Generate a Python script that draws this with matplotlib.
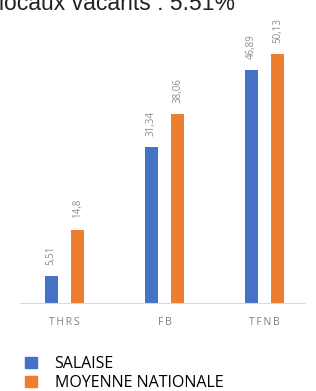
import matplotlib
matplotlib.use("Agg")
import matplotlib.pyplot as plt
from matplotlib.patches import Patch

categories = ["THRS", "FB", "TFNB"]
salaise = [5.51, 31.34, 46.89]
moyenne = [14.8, 38.06, 50.13]
series_names = ["SALAISE", "MOYENNE NATIONALE"]
title = "locaux vacants : 5.51%"

blue = "#4472C4"
orange = "#ED7D31"

fig = plt.figure(figsize=(3.16, 3.91), dpi=100)
ax = fig.add_axes([20 / 316, 88 / 391, 285 / 316, 273 / 391])

x = list(range(len(categories)))
w = 0.13
off = 0.133
b1 = ax.bar([i - off for i in x], salaise, width=w, color=blue)
b2 = ax.bar([i + off for i in x], moyenne, width=w, color=orange)

for bars, vals in [(b1, salaise), (b2, moyenne)]:
    for bar, v in zip(bars, vals):
        ax.annotate(f"{v}".replace(".", ","),
                    (bar.get_x() + bar.get_width() / 2, bar.get_height()),
                    xytext=(0, 8), textcoords="offset points",
                    rotation=90, ha="center", va="bottom",
                    fontsize=7, color="#8f8f8f", family="Open Sans")

ax.set_xlim(-0.445, 2.405)
ax.set_ylim(0, 55)
ax.set_xticks(x)
ax.set_xticklabels(["\u2009".join(c) for c in categories],
                   fontsize=7.5, color="#7f7f7f", family="Open Sans")
ax.tick_params(axis="x", length=0, pad=10)
ax.set_yticks([])
for s in ["top", "right", "left"]:
    ax.spines[s].set_visible(False)
ax.spines["bottom"].set_color("#d9d9d9")
ax.spines["bottom"].set_linewidth(0.8)

fig.text(-0.003, 1 - 10 / 391, title, fontsize=16.5, color="#222222",
         family="Liberation Sans", ha="left", va="baseline")

handles = [Patch(color=blue), Patch(color=orange)]
fig.legend(handles, series_names, loc="upper left",
           bbox_to_anchor=(25 / 316, 1 - 356 / 391), frameon=False,
           prop={"family": "Open Sans", "size": 11.5},
           handlelength=0.75, handleheight=0.75, handletextpad=1.1,
           labelspacing=0.2, borderaxespad=0, borderpad=0)

fig.savefig("out.png", dpi=100)
